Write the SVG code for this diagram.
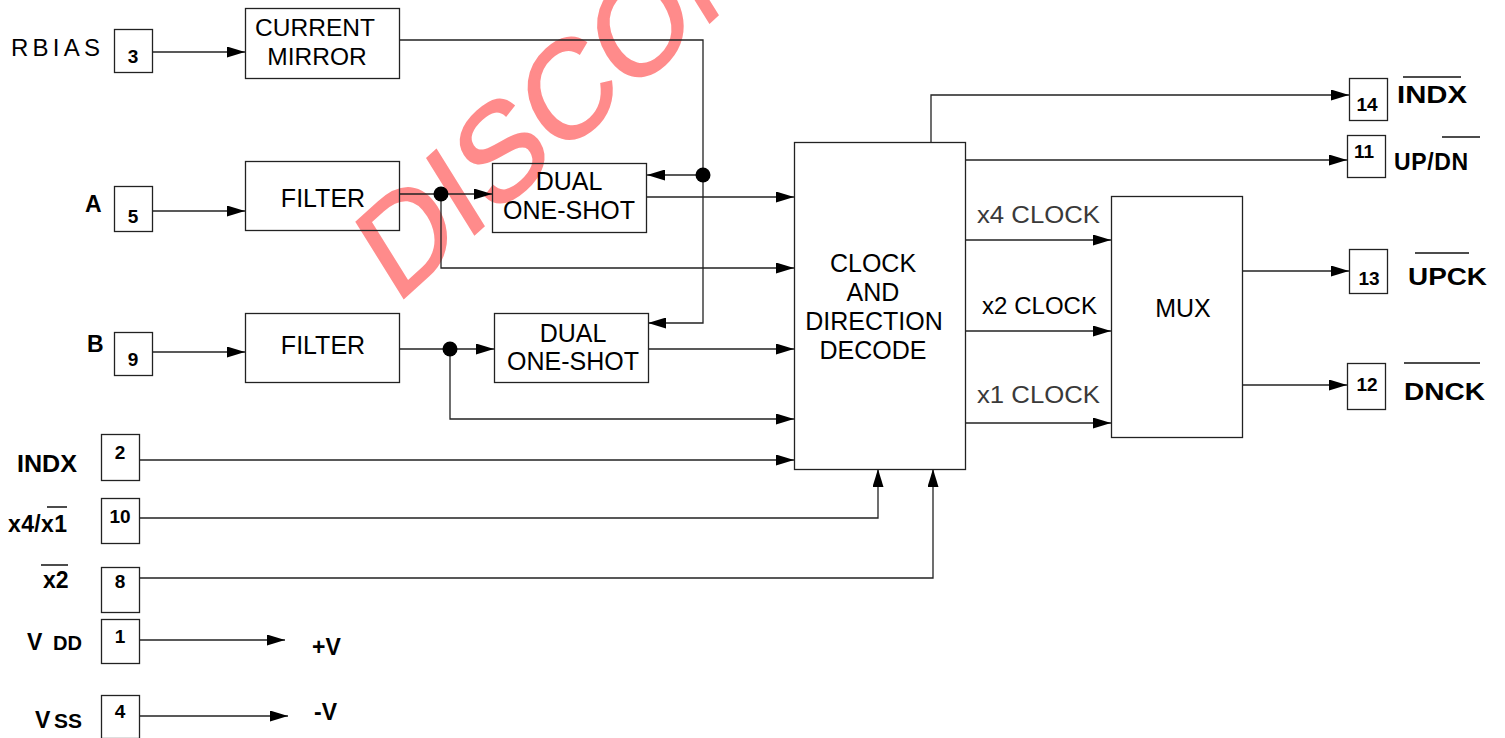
<svg xmlns="http://www.w3.org/2000/svg" width="1505" height="738" viewBox="0 0 1505 738">
<style>
text{font-family:"Liberation Sans",Arial,sans-serif;fill:#000}
.n{font-size:25px;text-anchor:middle}
.p{font-size:19px;font-weight:bold;text-anchor:middle}
.l{font-size:23px;font-weight:bold}
.box{fill:none;stroke:#222;stroke-width:1.3}
.c{fill:none;stroke:#222;stroke-width:1.3}
.ov{stroke:#111;stroke-width:1.5}
.wm{font-size:130px;fill:#ff8b8b;stroke:#ff8b8b;stroke-width:2}
</style>
<defs>
<marker id="ah" markerUnits="userSpaceOnUse" markerWidth="18" markerHeight="11" refX="18" refY="5.5" orient="auto">
<path d="M0,0 L18,5.5 L0,11 Z" fill="#000"/>
</marker>
</defs>
<rect width="1505" height="738" fill="#fff"/>
<text class="wm" transform="matrix(0.743,-0.669,0.53,0.85,396,305)">DISCON</text>

<g id="connectors">
<path class="c" d="M152,52 H245" marker-end="url(#ah)"/>
<path class="c" d="M399,40 H703 V323 H648" marker-end="url(#ah)"/>
<path class="c" d="M703,175 H647" marker-end="url(#ah)"/>
<path class="c" d="M152,211 H245" marker-end="url(#ah)"/>
<path class="c" d="M399,194 H492" marker-end="url(#ah)"/>
<path class="c" d="M441,194 V268 H794" marker-end="url(#ah)"/>
<path class="c" d="M646,197 H794" marker-end="url(#ah)"/>
<path class="c" d="M152,352 H245" marker-end="url(#ah)"/>
<path class="c" d="M399,349 H494" marker-end="url(#ah)"/>
<path class="c" d="M450,349 V419 H794" marker-end="url(#ah)"/>
<path class="c" d="M648,349 H794" marker-end="url(#ah)"/>
<path class="c" d="M139,460 H794" marker-end="url(#ah)"/>
<path class="c" d="M139,518 H878 V469" marker-end="url(#ah)"/>
<path class="c" d="M139,578 H933 V469" marker-end="url(#ah)"/>
<path class="c" d="M139,640 H285" marker-end="url(#ah)"/>
<path class="c" d="M139,716 H288" marker-end="url(#ah)"/>
<path class="c" d="M931,142 V95 H1349" marker-end="url(#ah)"/>
<path class="c" d="M965,160 H1347" marker-end="url(#ah)"/>
<path class="c" d="M965,240 H1111" marker-end="url(#ah)"/>
<path class="c" d="M965,331 H1111" marker-end="url(#ah)"/>
<path class="c" d="M965,423 H1111" marker-end="url(#ah)"/>
<path class="c" d="M1242,271 H1349" marker-end="url(#ah)"/>
<path class="c" d="M1242,385 H1347" marker-end="url(#ah)"/>
<circle cx="703" cy="175" r="7.5" fill="#000"/>
<circle cx="441" cy="194" r="7.5" fill="#000"/>
<circle cx="450" cy="349" r="7.5" fill="#000"/>
</g>

<g id="current-mirror">
<rect class="box" x="245.5" y="8.5" width="154" height="70"/>
<text class="n" x="315" y="36" style="font-size:24.5px">CURRENT</text>
<text class="n" x="317" y="65" style="font-size:24.5px">MIRROR</text>
</g>
<g id="filter-a">
<rect class="box" x="245.5" y="161.5" width="154" height="69"/>
<text class="n" x="323" y="207">FILTER</text>
</g>
<g id="filter-b">
<rect class="box" x="245.5" y="313.5" width="154" height="69"/>
<text class="n" x="323" y="354">FILTER</text>
</g>
<g id="oneshot-a">
<rect class="box" x="492.5" y="163.5" width="154" height="69"/>
<text class="n" x="569" y="190">DUAL</text>
<text class="n" x="569" y="219">ONE-SHOT</text>
</g>
<g id="oneshot-b">
<rect class="box" x="494.5" y="313.5" width="154" height="69"/>
<text class="n" x="573" y="342">DUAL</text>
<text class="n" x="573" y="370">ONE-SHOT</text>
</g>
<g id="decode">
<rect class="box" x="794.5" y="142.5" width="171" height="327"/>
<text class="n" x="873" y="272">CLOCK</text>
<text class="n" x="873" y="301">AND</text>
<text class="n" x="874" y="330">DIRECTION</text>
<text class="n" x="873" y="359">DECODE</text>
</g>
<g id="mux">
<rect class="box" x="1111.5" y="196.5" width="131" height="241"/>
<text class="n" x="1183" y="317">MUX</text>
</g>
<g id="clock-labels">
<text x="977" y="223" style="font-size:24px;fill:#3a3a3a" textLength="123" lengthAdjust="spacingAndGlyphs">x4 CLOCK</text>
<text x="982" y="314" style="font-size:24px" textLength="115">x2 CLOCK</text>
<text x="977" y="403" style="font-size:24px;fill:#3a3a3a" textLength="123" lengthAdjust="spacingAndGlyphs">x1 CLOCK</text>
</g>

<g id="pin3"><rect class="box" x="114.5" y="29.5" width="38" height="43"/><text class="p" x="133" y="63">3</text>
<text x="11" y="56" style="font-size:24px" textLength="89">RBIAS</text></g>
<g id="pin5"><rect class="box" x="114.5" y="186.5" width="38" height="45"/><text class="p" x="133" y="223">5</text>
<text class="l" x="85" y="212">A</text></g>
<g id="pin9"><rect class="box" x="114.5" y="332.5" width="38" height="43"/><text class="p" x="133" y="366">9</text>
<text class="l" x="87" y="352">B</text></g>
<g id="pin2"><rect class="box" x="101.5" y="434.5" width="38" height="46"/><text class="p" x="120" y="459">2</text>
<text class="l" x="17" y="472" textLength="60" lengthAdjust="spacingAndGlyphs">INDX</text></g>
<g id="pin10"><rect class="box" x="101.5" y="498.5" width="38" height="45"/><text class="p" x="120" y="523">10</text>
<text class="l" x="8" y="532" textLength="59">x4/x1</text><line class="ov" x1="47" y1="507" x2="67" y2="507"/></g>
<g id="pin8"><rect class="box" x="101.5" y="567.5" width="38" height="45"/><text class="p" x="120" y="588">8</text>
<text class="l" x="43" y="588">x2</text><line class="ov" x1="41" y1="565" x2="68" y2="565"/></g>
<g id="pin1"><rect class="box" x="101.5" y="619.5" width="38" height="44"/><text class="p" x="120" y="643">1</text>
<text class="l" x="27" y="650">V</text><text x="53" y="650" style="font-size:20px;font-weight:bold" textLength="29" lengthAdjust="spacingAndGlyphs">DD</text>
<text class="l" x="312" y="655">+V</text></g>
<g id="pin4"><rect class="box" x="101.5" y="695.5" width="38" height="43"/><text class="p" x="120" y="718">4</text>
<text class="l" x="35" y="728">V</text><text x="54" y="728" style="font-size:20px;font-weight:bold" textLength="28" lengthAdjust="spacingAndGlyphs">SS</text>
<text class="l" x="314" y="720">-V</text></g>

<g id="pin14"><rect class="box" x="1349.5" y="78.5" width="38" height="42"/><text class="p" x="1367" y="111">14</text>
<text class="l" x="1397" y="103" textLength="70" lengthAdjust="spacingAndGlyphs">INDX</text><line class="ov" x1="1403" y1="77" x2="1461" y2="77"/></g>
<g id="pin11"><rect class="box" x="1347.5" y="135.5" width="38" height="42"/><text class="p" x="1364" y="158">11</text>
<text class="l" x="1394" y="170" textLength="74">UP/DN</text><line class="ov" x1="1442" y1="137" x2="1480" y2="137"/></g>
<g id="pin13"><rect class="box" x="1349.5" y="249.5" width="38" height="44"/><text class="p" x="1369" y="285">13</text>
<text class="l" x="1408" y="285" textLength="79" lengthAdjust="spacingAndGlyphs">UPCK</text><line class="ov" x1="1415" y1="253" x2="1469" y2="253"/></g>
<g id="pin12"><rect class="box" x="1347.5" y="363.5" width="38" height="46"/><text class="p" x="1367" y="391">12</text>
<text class="l" x="1404" y="400" textLength="81" lengthAdjust="spacingAndGlyphs">DNCK</text><line class="ov" x1="1404" y1="363" x2="1480" y2="363"/></g>
</svg>
